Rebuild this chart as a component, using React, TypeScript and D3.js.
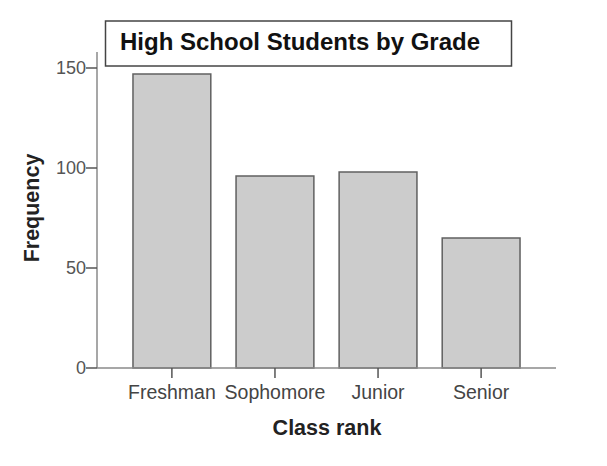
import React, { useEffect, useRef } from "react";
import * as d3 from "d3";

const categories = ["Freshman", "Sophomore", "Junior", "Senior"];
const frequencies = [147, 96, 98, 65];
const yTicks = [0, 50, 100, 150];
const title = "High School Students by Grade";
const xLabel = "Class rank";
const yLabel = "Frequency";

export default function App() {
  const ref = useRef<SVGSVGElement | null>(null);
  useEffect(() => {
    const svg = d3.select(ref.current);
    svg.selectAll("*").remove();
    const W = 607, H = 466;
    const x0 = 97, x1 = 556, yBase = 368, yTopAxis = 52;
    const y = d3.scaleLinear().domain([0, 150]).range([yBase, 68]);
    const x = d3.scaleBand<string>().domain(categories).range([x0, x1]).paddingInner(0.245).paddingOuter(0.349);
    const font = "'Liberation Sans', Arial, sans-serif";
    svg.append("rect").attr("width", W).attr("height", H).attr("fill", "#fff");

    // bars
    svg.selectAll("rect.bar").data(frequencies).enter().append("rect")
      .attr("class", "bar")
      .attr("x", (_, i) => x(categories[i])!)
      .attr("y", d => y(d))
      .attr("width", x.bandwidth())
      .attr("height", d => yBase - y(d))
      .attr("fill", "#cccccc")
      .attr("stroke", "#606060")
      .attr("stroke-width", 1.5);

    const axisColor = "#8a8a8a";
    // y axis
    svg.append("line").attr("x1", x0).attr("x2", x0).attr("y1", yTopAxis).attr("y2", yBase)
      .attr("stroke", axisColor).attr("stroke-width", 1.5);
    // x axis
    svg.append("line").attr("x1", x0).attr("x2", x1).attr("y1", yBase).attr("y2", yBase)
      .attr("stroke", axisColor).attr("stroke-width", 1.5);

    const yt = svg.append("g");
    yTicks.forEach(t => {
      yt.append("line").attr("x1", x0 - 11).attr("x2", x0).attr("y1", y(t)).attr("y2", y(t))
        .attr("stroke", "#555").attr("stroke-width", 1.5);
      yt.append("text").attr("x", x0 - 11).attr("y", y(t)).attr("dy", "0.36em")
        .attr("text-anchor", "end").attr("font-family", font).attr("font-size", 18)
        .attr("fill", "#555").text(String(t));
    });

    const xt = svg.append("g");
    categories.forEach(c => {
      const cx = x(c)! + x.bandwidth() / 2;
      xt.append("line").attr("x1", cx).attr("x2", cx).attr("y1", yBase).attr("y2", yBase + 10)
        .attr("stroke", "#555").attr("stroke-width", 1.5);
      xt.append("text").attr("x", cx).attr("y", 399).attr("text-anchor", "middle")
        .attr("font-family", font).attr("font-size", 19.5).attr("fill", "#444").text(c);
    });

    svg.append("text").attr("x", 327).attr("y", 435).attr("text-anchor", "middle")
      .attr("font-family", font).attr("font-size", 21.5).attr("font-weight", "bold")
      .attr("fill", "#222").text(xLabel);

    svg.append("text").attr("transform", "translate(39,208) rotate(-90)").attr("text-anchor", "middle")
      .attr("font-family", font).attr("font-size", 21.5).attr("font-weight", "bold")
      .attr("fill", "#222").text(yLabel);

    // title box
    svg.append("rect").attr("x", 105.5).attr("y", 21).attr("width", 406).attr("height", 45)
      .attr("fill", "#fff").attr("stroke", "#444").attr("stroke-width", 1.5);
    svg.append("text").attr("x", 120).attr("y", 50)
      .attr("font-family", font).attr("font-size", 24).attr("font-weight", "bold")
      .attr("fill", "#111").text(title);
  }, []);
  return (
    <svg ref={ref} width={607} height={466}
      style={{ position: "absolute", left: 0, top: 0, display: "block" }} />
  );
}
